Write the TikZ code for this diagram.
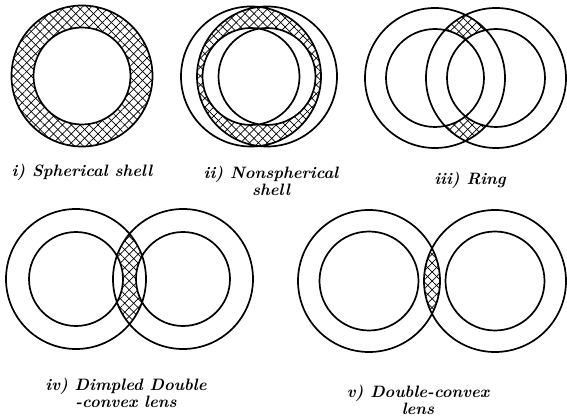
\documentclass[tikz,border=0pt]{standalone}
\usepackage{tikz}
\usetikzlibrary{patterns.meta}

\newcommand{\shellpair}[5]{%
  \begin{scope}[even odd rule]
    \clip (#1,#3) circle (#4);
    \clip (#2,#3) circle (#4);
    \clip (0,0) rectangle (567,419) (#1,#3) circle (#5);
    \clip (0,0) rectangle (567,419) (#2,#3) circle (#5);
    \fill[hatch] (0,0) rectangle (567,419);
    \fill[hatchb] (0,0) rectangle (567,419);
  \end{scope}
  \draw[rim] (#1,#3) circle (#4) (#2,#3) circle (#4)
             (#1,#3) circle (#5) (#2,#3) circle (#5);
}

\begin{document}
\begin{tikzpicture}[x=1pt,y=-1pt,
  rim/.style={line width=1.7pt},
  hatch/.style={pattern={Lines[angle=45,distance=6.3pt,line width=0.7pt]}},
  hatchb/.style={pattern={Lines[angle=-45,distance=6.3pt,line width=0.7pt]}},
  caption/.style={font=\fontsize{16.5}{17}\selectfont\bfseries\itshape, align=center}]
\useasboundingbox (0,0) rectangle (567,419);

\shellpair{82}{82}{76}{70.5}{48.5}
\shellpair{251}{267}{76.5}{70}{48.5}
\shellpair{435}{496}{78}{70}{49}
\shellpair{76}{183}{279}{70}{47}
\shellpair{369}{495}{281}{71}{49.5}

\node[caption] (capA) at (82,172) {i) Spherical shell};
\node[caption] (capB) at (271,181) {ii) Nonspherical\\shell};
\node[caption] (capC) at (470,180) {iii) Ring};
\node[caption] (capD) at (126,393) {iv) Dimpled Double\\-convex lens};
\node[caption] (capE) at (418,400) {v) Double-convex\\lens};
\end{tikzpicture}
\end{document}
